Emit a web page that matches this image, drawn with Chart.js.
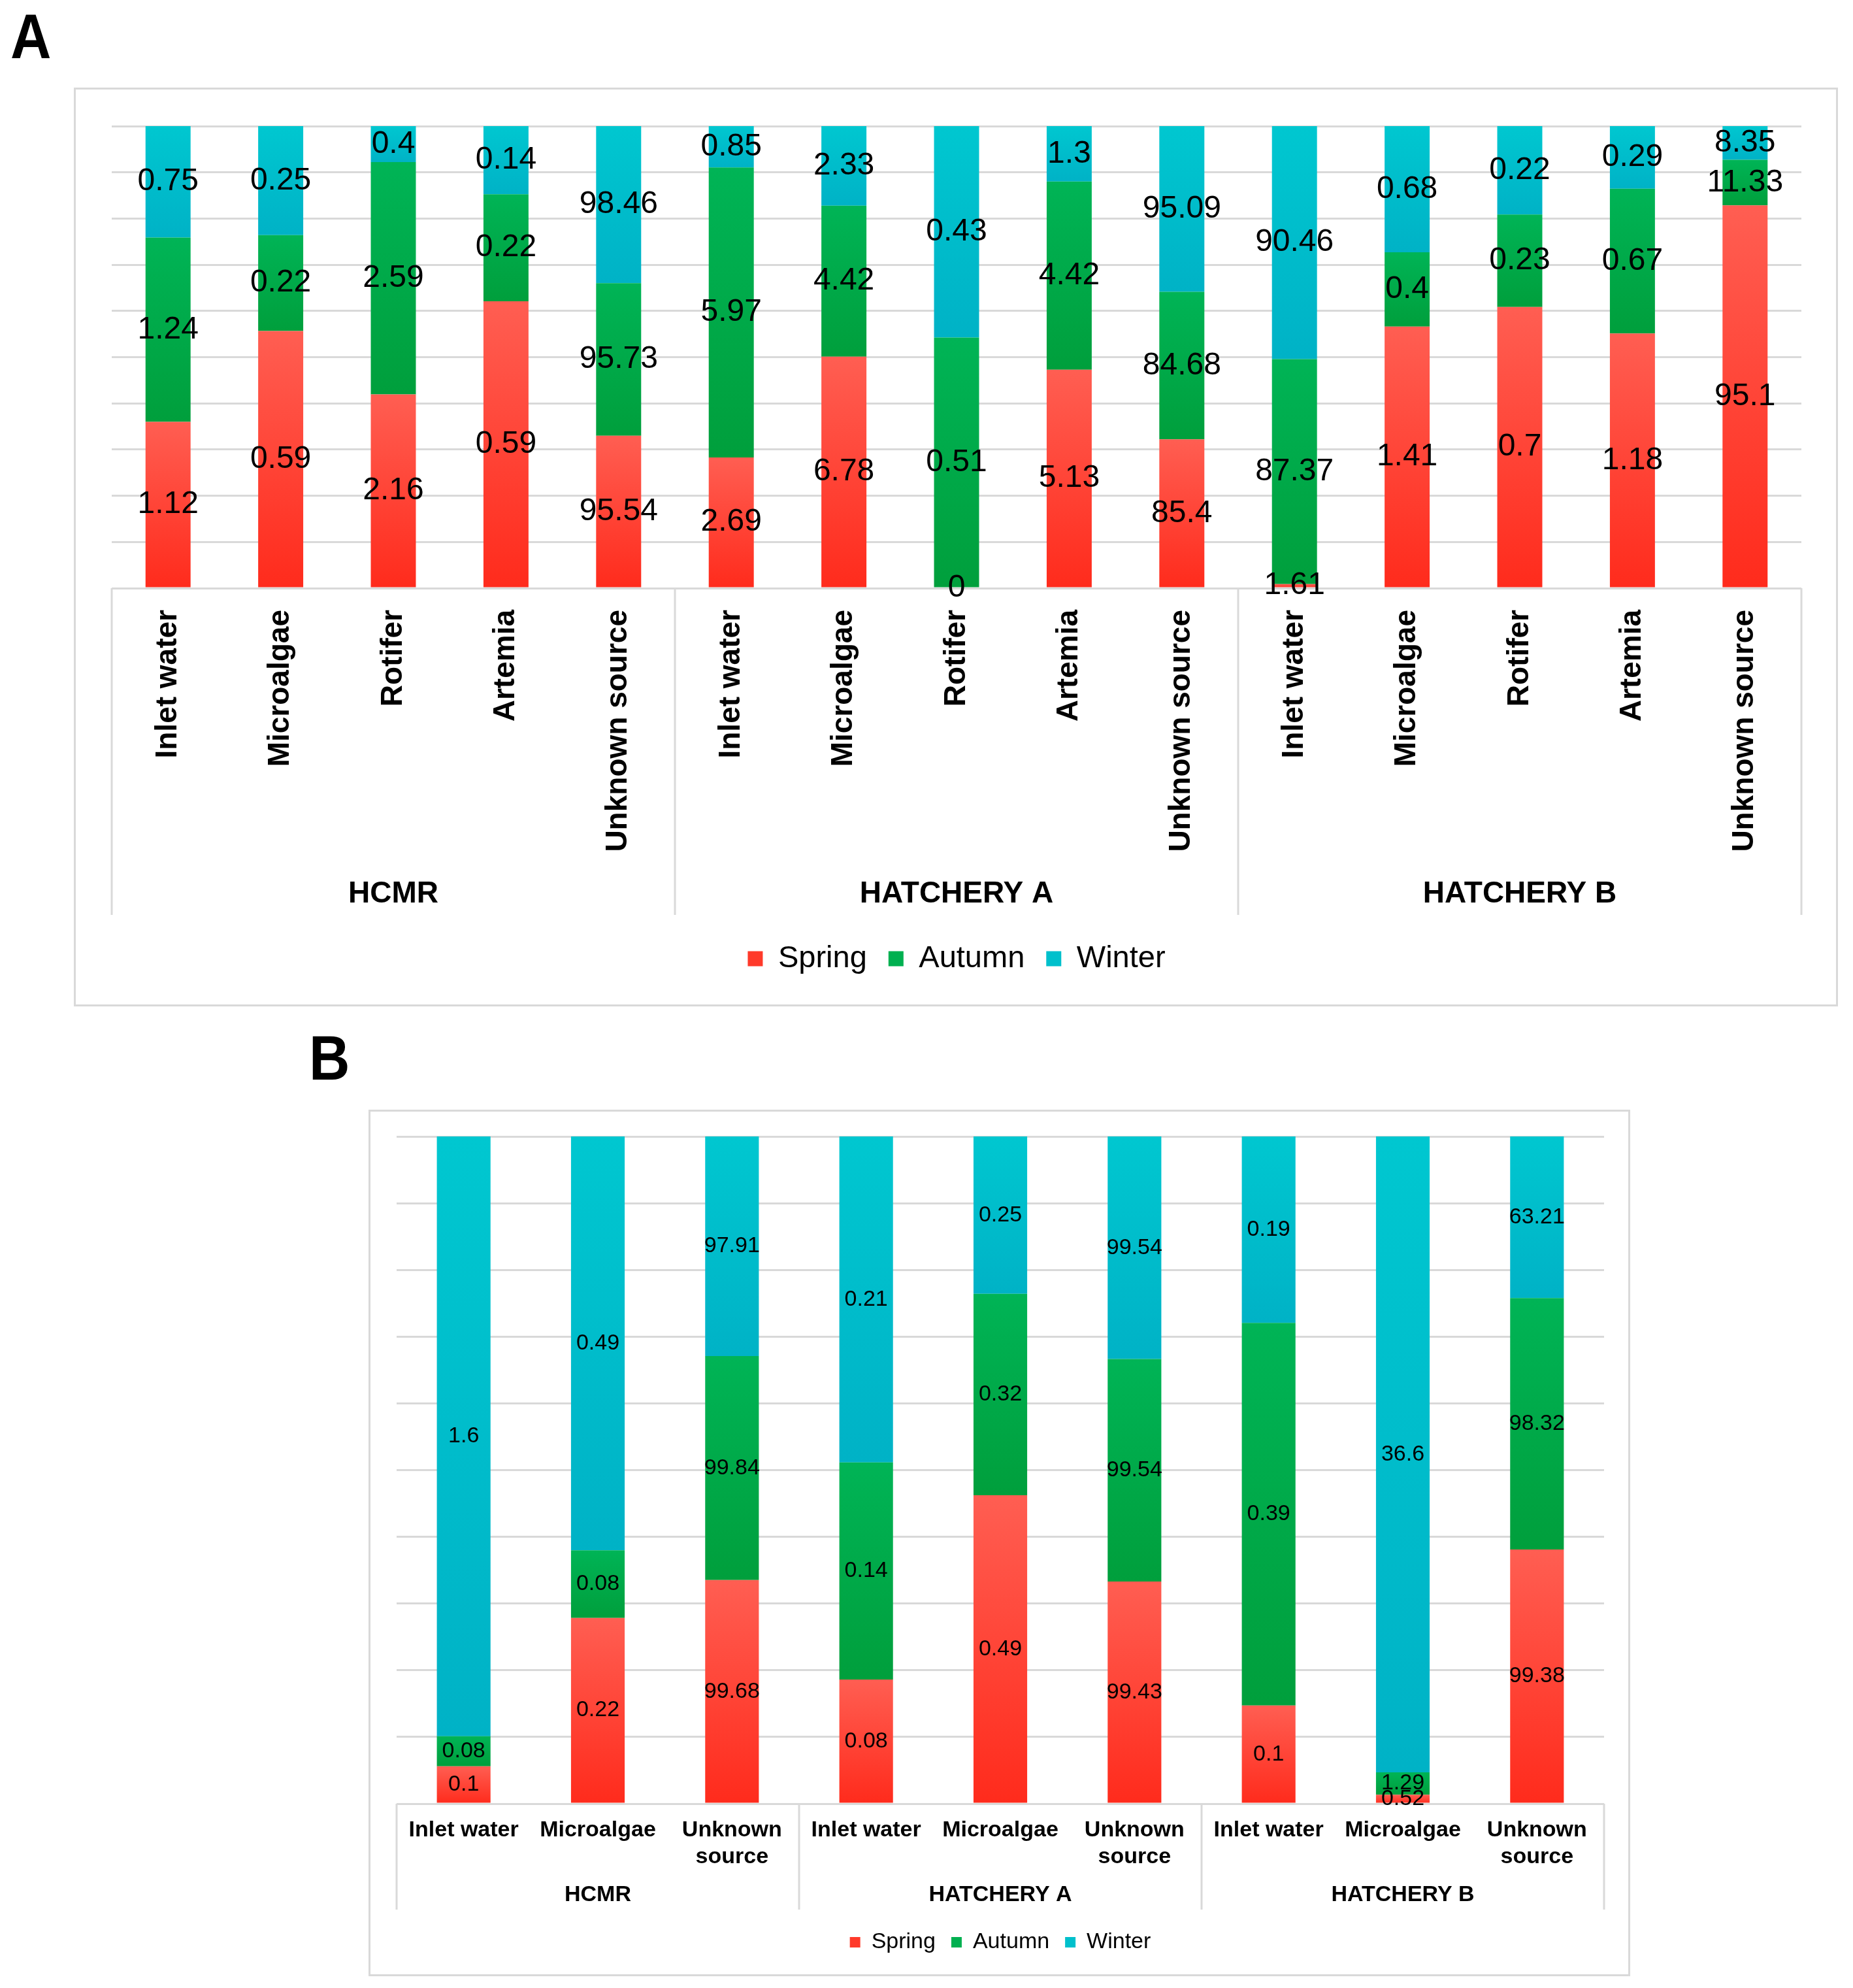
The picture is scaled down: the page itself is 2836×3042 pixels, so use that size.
<!DOCTYPE html>
<html>
<head>
<meta charset="utf-8">
<script src="https://cdn.jsdelivr.net/npm/chart.js@4.4.1/dist/chart.umd.min.js"></script>
<style>
  html, body { margin: 0; padding: 0; background: #fff; }
  body { width: 2836px; height: 3042px; position: relative; overflow: hidden; }
  .letter { position: absolute; font: bold 96px/96px 'Liberation Sans', Arial, sans-serif; color: #000;
            transform: scaleX(0.9); transform-origin: left top; }
  .frame { position: absolute; border: 3px solid #D9D9D9; background: #fff; }
  canvas { display: block; }
</style>
</head>
<body>
<div class="letter" style="left:16px;top:8px;">A</div>
<div class="frame" style="left:113px;top:134px;width:2694px;height:1400px;">
  <canvas id="chartA" width="2694" height="1400"></canvas>
</div>
<div class="letter" style="left:473px;top:1571px;">B</div>
<div class="frame" style="left:564px;top:1698px;width:1925px;height:1320px;">
  <canvas id="chartB" width="1925" height="1320"></canvas>
</div>

<script>
// seasons and categories
const seasons = ["Spring", "Autumn", "Winter"];
const groups = ["HCMR", "HATCHERY A", "HATCHERY B"];

// panel A
const sourcesA = ["Inlet water", "Microalgae", "Rotifer", "Artemia", "Unknown source"];
const springA = [1.12, 0.59, 2.16, 0.59, 95.54, 2.69, 6.78, 0, 5.13, 85.4, 1.61, 1.41, 0.7, 1.18, 95.1];
const autumnA = [1.24, 0.22, 2.59, 0.22, 95.73, 5.97, 4.42, 0.51, 4.42, 84.68, 87.37, 0.4, 0.23, 0.67, 11.33];
const winterA = [0.75, 0.25, 0.4, 0.14, 98.46, 0.85, 2.33, 0.43, 1.3, 95.09, 90.46, 0.68, 0.22, 0.29, 8.35];

// panel B
const sourcesB = [["Inlet water"], ["Microalgae"], ["Unknown", "source"]];
const springB = [0.1, 0.22, 99.68, 0.08, 0.49, 99.43, 0.1, 0.52, 99.38];
const autumnB = [0.08, 0.08, 99.84, 0.14, 0.32, 99.54, 0.39, 1.29, 98.32];
const winterB = [1.6, 0.49, 97.91, 0.21, 0.25, 99.54, 0.19, 36.6, 63.21];

// top / bottom colour of each segment gradient
const segColors = [["#FF5E52", "#FF2B1C"], ["#00B456", "#009F3C"], ["#00C7D0", "#00B2C6"]];
const legendColors = ["#FF3A2A", "#00B050", "#00C0CC"];

const SANS = "'Liberation Sans', Arial, sans-serif";

// 100% stacked: every column is scaled to its own total
function toPercent(series) {
    const totals = series[0].map((_, j) => series.reduce((s, arr) => s + arr[j], 0));
    return series.map(arr => arr.map((v, j) => v / totals[j] * 100));
}

function segmentFill(pct, s) {
    return function(ctx) {
        const chart = ctx.chart;
        const cols = segColors[s];
        if (!chart.chartArea || ctx.dataIndex === undefined) return cols[0];
        const y = chart.scales.y;
        let start = 0;
        for (let k = 0; k < s; k++) start += pct[k][ctx.dataIndex];
        const top = y.getPixelForValue(start + pct[s][ctx.dataIndex]);
        const bottom = y.getPixelForValue(start);
        if (bottom - top < 1) return cols[1];
        const g = chart.ctx.createLinearGradient(0, top, 0, bottom);
        g.addColorStop(0, cols[0]);
        g.addColorStop(1, cols[1]);
        return g;
    };
}

// boxes and group names under the category labels
const groupAxis = {
    id: 'groupAxis',
    afterDraw(chart, args, opts) {
        const {ctx, chartArea, scales: {x}} = chart;
        const n = chart.data.labels.length;
        const per = n / opts.groups.length;
        const slot = x.getPixelForValue(1) - x.getPixelForValue(0);
        ctx.save();
        ctx.strokeStyle = '#D9D9D9';
        ctx.lineWidth = 3;
        ctx.beginPath();
        for (let g = 0; g <= opts.groups.length; g++) {
            const px = x.getPixelForValue(Math.min(g * per, n - 1)) + (g * per < n ? -slot / 2 : slot / 2);
            ctx.moveTo(px, chartArea.bottom);
            ctx.lineTo(px, chartArea.bottom + opts.boxHeight);
        }
        ctx.stroke();
        ctx.fillStyle = '#000';
        ctx.font = opts.font;
        ctx.textAlign = 'center';
        ctx.textBaseline = 'middle';
        opts.groups.forEach((name, g) => {
            const cx = (x.getPixelForValue(g * per) + x.getPixelForValue(g * per + per - 1)) / 2;
            ctx.fillText(name, cx, chartArea.bottom + opts.labelOffset);
        });
        ctx.restore();
    }
};

// raw value in the middle of each segment
const segLabels = {
    id: 'segLabels',
    afterDatasetsDraw(chart, args, opts) {
        const ctx = chart.ctx;
        ctx.save();
        ctx.font = opts.font;
        ctx.fillStyle = '#000';
        ctx.textAlign = 'center';
        ctx.textBaseline = 'middle';
        chart.data.datasets.forEach((ds, i) => {
            chart.getDatasetMeta(i).data.forEach((bar, j) => {
                ctx.fillText(String(ds.values[j]), bar.x, (bar.y + bar.base) / 2);
            });
        });
        ctx.restore();
    }
};

function buildChart(id, cfg) {
    const pct = toPercent(cfg.series);
    const labels = [];
    groups.forEach(() => cfg.sources.forEach(s => labels.push(s)));

    return new Chart(document.getElementById(id), {
        type: 'bar',
        data: {
            labels: labels,
            datasets: cfg.series.map((vals, s) => ({
                label: seasons[s],
                data: pct[s],
                values: vals,
                backgroundColor: segmentFill(pct, s),
                borderWidth: 0,
                barPercentage: 0.4,
                categoryPercentage: 1
            }))
        },
        options: {
            responsive: false,
            animation: false,
            devicePixelRatio: 1,
            events: [],
            layout: { padding: cfg.padding },
            scales: {
                x: {
                    stacked: true,
                    grid: { display: false, drawTicks: false },
                    border: { display: false },
                    ticks: {
                        color: '#000',
                        font: cfg.tickFont,
                        padding: cfg.tickPad,
                        minRotation: cfg.rotation,
                        maxRotation: cfg.rotation,
                        autoSkip: false
                    },
                    afterFit: scale => { scale.height = cfg.axisHeight; }
                },
                y: {
                    stacked: true,
                    min: 0,
                    max: 100,
                    ticks: { display: false, stepSize: 10 },
                    grid: { color: '#D9D9D9', lineWidth: 3, drawTicks: false },
                    border: { display: false },
                    afterFit: scale => { scale.width = 0; }
                }
            },
            plugins: {
                tooltip: { enabled: false },
                legend: {
                    position: 'bottom',
                    labels: {
                        color: '#000',
                        font: cfg.legendFont,
                        boxWidth: cfg.legendBox,
                        boxHeight: cfg.legendBox,
                        padding: cfg.legendPad,
                        generateLabels: chart => Chart.defaults.plugins.legend.labels.generateLabels(chart)
                            .map((item, i) => Object.assign(item, {
                                fillStyle: legendColors[i], strokeStyle: legendColors[i], lineWidth: 0
                            }))
                    }
                },
                groupAxis: { groups: groups, font: cfg.groupFont, boxHeight: cfg.boxHeight, labelOffset: cfg.groupOffset },
                segLabels: { font: cfg.valueFont }
            }
        },
        plugins: [groupAxis, segLabels]
    });
}

buildChart('chartA', {
    series: [springA, autumnA, winterA],
    sources: sourcesA,
    padding: { left: 55, right: 53, top: 56, bottom: 36.5 },
    tickFont: { family: SANS, size: 46, weight: 'bold' },
    tickPad: 33,
    rotation: 90,
    axisHeight: 510.5,
    boxHeight: 500,
    groupOffset: 468,
    groupFont: 'bold 46px ' + SANS,
    valueFont: '48px ' + SANS,
    legendFont: { family: SANS, size: 47 },
    legendBox: 23,
    legendPad: 33
});

buildChart('chartB', {
    series: [springB, autumnB, winterB],
    sources: sourcesB,
    padding: { left: 40, right: 37, top: 38, bottom: 22 },
    tickFont: { family: SANS, size: 34, weight: 'bold', lineHeight: 1.18 },
    tickPad: 21,
    rotation: 0,
    axisHeight: 171,
    boxHeight: 162,
    groupOffset: 140,
    groupFont: 'bold 34px ' + SANS,
    valueFont: '34px ' + SANS,
    legendFont: { family: SANS, size: 34 },
    legendBox: 16,
    legendPad: 24
});
</script>
</body>
</html>
